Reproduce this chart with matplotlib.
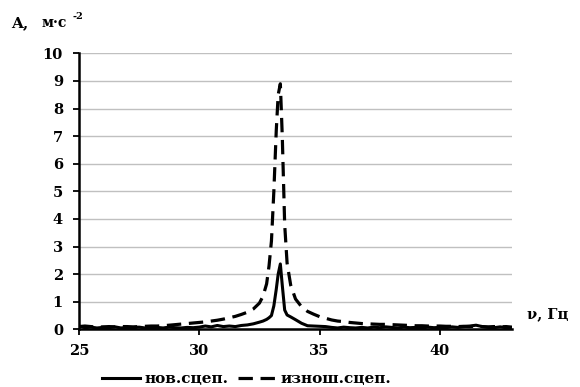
import matplotlib
matplotlib.use("Agg")
import matplotlib.pyplot as plt

freq = [25.0, 25.25, 25.5, 25.75, 26.0, 26.25, 26.5, 26.75, 27.0, 27.25, 27.5, 27.75,
        28.0, 28.25, 28.5, 28.75, 29.0, 29.25, 29.5, 29.75, 30.0, 30.25, 30.5, 30.75,
        31.0, 31.25, 31.5, 31.75,
        32.0, 32.25, 32.5, 32.65, 32.8, 32.9, 33.0, 33.1, 33.2, 33.28, 33.37, 33.45,
        33.55, 33.65, 33.8, 34.0, 34.25, 34.5, 34.75,
        35.0, 35.25, 35.5, 35.75, 36.0, 36.25, 36.5, 36.75, 37.0, 37.25, 37.5, 37.75,
        38.0, 38.25, 38.5, 38.75, 39.0, 39.25, 39.5, 39.75, 40.0, 40.25, 40.5, 40.75,
        41.0, 41.25, 41.5, 41.75, 42.0, 42.25, 42.5, 42.75, 43.0]

new_coupling = [0.12, 0.06, 0.08, 0.05, 0.07, 0.06, 0.09, 0.05, 0.07, 0.06, 0.08, 0.05,
                0.06, 0.07, 0.05, 0.08, 0.06, 0.05, 0.07, 0.06, 0.08, 0.12, 0.09, 0.14,
                0.10, 0.12, 0.10, 0.14,
                0.16, 0.20, 0.26, 0.30, 0.36, 0.42, 0.50, 0.85, 1.45, 2.00, 2.37, 1.60,
                0.70, 0.52, 0.45, 0.35, 0.22, 0.13, 0.12,
                0.11, 0.10, 0.07, 0.05, 0.08, 0.06, 0.05, 0.07, 0.05, 0.08, 0.06, 0.09,
                0.07, 0.05, 0.08, 0.06, 0.07, 0.05, 0.08, 0.06, 0.07, 0.06, 0.09, 0.07,
                0.10, 0.12, 0.15, 0.10, 0.07, 0.06, 0.09, 0.06, 0.05]

worn_coupling = [0.10, 0.12, 0.10, 0.08, 0.09, 0.10, 0.09, 0.10, 0.10, 0.09, 0.10, 0.11,
                 0.12, 0.12, 0.13, 0.15, 0.17, 0.19, 0.21, 0.23, 0.25, 0.27, 0.30, 0.33,
                 0.37, 0.42, 0.47, 0.54,
                 0.62, 0.74, 0.95, 1.20, 1.65, 2.30, 3.20, 5.00, 7.20, 8.50, 8.90, 7.00,
                 3.80, 2.40, 1.60, 1.10, 0.82, 0.65, 0.55,
                 0.46, 0.40, 0.34, 0.30, 0.28, 0.25, 0.23, 0.21, 0.20, 0.19, 0.18, 0.18,
                 0.17, 0.16, 0.15, 0.14, 0.13, 0.13, 0.12, 0.12, 0.12, 0.11, 0.11, 0.10,
                 0.11, 0.10, 0.12, 0.10, 0.09, 0.10, 0.09, 0.10, 0.08]

x_ticks = [25, 30, 35, 40]
y_ticks = [0, 1, 2, 3, 4, 5, 6, 7, 8, 9, 10]
labels = ["нов.сцеп.", "изнош.сцеп."]

plt.rcParams['font.family'] = ['DejaVu Serif']
plt.rcParams['font.weight'] = 'bold'

fig = plt.figure(figsize=(5.8, 3.87), dpi=100)
ax = fig.add_axes([0.136, 0.149, 0.747, 0.713])

ax.plot(freq, new_coupling, color='black', lw=2.2, label=labels[0], solid_joinstyle='round')
ax.plot(freq, worn_coupling, color='black', lw=2.3, dashes=(4.5, 2.4), label=labels[1])

ax.set_xlim(25, 43)
ax.set_ylim(0, 10)
ax.set_xticks(x_ticks)
ax.set_yticks(y_ticks)
ax.yaxis.grid(True, color='#c0c0c0', lw=1)
ax.set_axisbelow(True)
for s in ['top', 'right']:
    ax.spines[s].set_visible(False)
for s in ['left', 'bottom']:
    ax.spines[s].set_linewidth(1.8)
ax.tick_params(axis='both', labelsize=10.5, width=1.3, length=4.5, direction='out')
ax.tick_params(axis='y', pad=7)
ax.tick_params(axis='x', pad=6)
for lab in ax.get_xticklabels() + ax.get_yticklabels():
    lab.set_fontweight('bold')

fig.text(0.020, 0.930, "A,", fontsize=11, fontweight='bold', va='baseline')
fig.text(0.072, 0.930, "м·с", fontsize=10, fontweight='bold', va='baseline')
fig.text(0.125, 0.950, "-2", fontsize=7, fontweight='bold', va='baseline')
fig.text(0.908, 0.178, "ν, Гц", fontsize=10.5, fontweight='bold', va='baseline')

leg = fig.legend(loc='center', bbox_to_anchor=(0.425, 0.02), ncol=2, frameon=False,
                 handlelength=2.5, handletextpad=0.25, columnspacing=0.65,
                 borderpad=0.0, prop={'weight': 'bold', 'size': 11})

fig.savefig("out.png", dpi=100)
